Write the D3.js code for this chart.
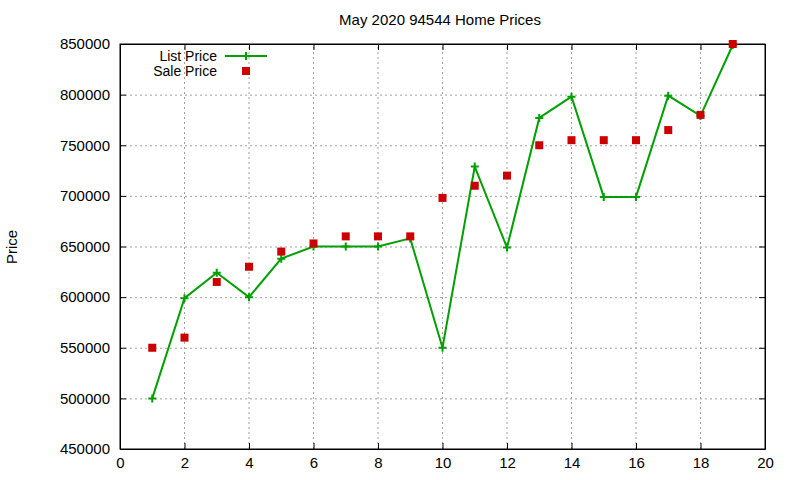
<!DOCTYPE html>
<html>
<head>
<meta charset="utf-8">
<script src="https://cdnjs.cloudflare.com/ajax/libs/d3/7.8.5/d3.min.js"></script>
<style>
  body { margin: 0; background: #fff; }
  text { font-family: "Liberation Sans", Arial, sans-serif; fill: #000; }
</style>
</head>
<body>
<svg></svg>
<script>
var width = 800;
var height = 480;

// data
var days = [1, 2, 3, 4, 5, 6, 7, 8, 9, 10, 11, 12, 13, 14, 15, 16, 17, 18, 19];
var listPrice = [500000, 599000, 624000, 600000, 638000, 650000, 650000, 650000, 658000, 550000,
                 729000, 649000, 777000, 798000, 699000, 699000, 799000, 779000, 849000];
var salePrice = [550000, 560000, 615000, 630000, 645000, 653000, 660000, 660000, 660000, 698000,
                 710000, 720000, 750000, 755000, 755000, 755000, 765000, 780000, 850000];
var xTicks = [0, 2, 4, 6, 8, 10, 12, 14, 16, 18, 20];
var yTicks = [450000, 500000, 550000, 600000, 650000, 700000, 750000, 800000, 850000];

var margin = {left: 120, right: 35, top: 44, bottom: 31};

var svg = d3.select('svg')
    .attr('width', width)
    .attr('height', height);

var x = d3.scaleLinear().domain([0, 20]).range([margin.left, width - margin.right]);
var y = d3.scaleLinear().domain([450000, 850000]).range([height - margin.bottom, margin.top]);

// grid
var grid = svg.append('g');
grid.selectAll('.gx').data(xTicks.slice(1, -1)).enter().append('line')
    .attr('x1', d => x(d)).attr('x2', d => x(d))
    .attr('y1', y(450000)).attr('y2', y(850000))
    .attr('stroke', '#a0a0a0').attr('stroke-dasharray', '2,3');
grid.selectAll('.gy').data(yTicks.slice(1, -1)).enter().append('line')
    .attr('x1', x(0)).attr('x2', x(20))
    .attr('y1', d => y(d) + 0.5).attr('y2', d => y(d) + 0.5)
    .attr('stroke', '#a0a0a0').attr('stroke-dasharray', '2,3');

// axes (gnuplot style: ticks inside, mirrored)
var xAxis = d3.axisBottom(x).tickValues(xTicks).tickSizeInner(-6).tickSizeOuter(0).tickPadding(8);
var yAxis = d3.axisLeft(y).tickValues(yTicks).tickSizeInner(-6).tickSizeOuter(0).tickPadding(10)
    .tickFormat(d3.format('d'));

svg.append('g').attr('transform', 'translate(0,' + y(450000) + ')').call(xAxis);
svg.append('g').attr('transform', 'translate(' + x(0) + ',0)').call(yAxis);
svg.append('g').attr('transform', 'translate(0,' + y(850000) + ')')
    .call(d3.axisTop(x).tickValues(xTicks).tickSizeInner(-6).tickSizeOuter(0).tickFormat(''));
svg.append('g').attr('transform', 'translate(' + x(20) + ',0)')
    .call(d3.axisRight(y).tickValues(yTicks).tickSizeInner(-6).tickSizeOuter(0).tickFormat(''));

svg.selectAll('.tick text').style('font-size', '15px').style('font-family', '"Liberation Sans", Arial, sans-serif');
svg.selectAll('.domain').attr('stroke', '#000');
svg.append('rect')
    .attr('x', x(0)).attr('y', y(850000))
    .attr('width', x(20) - x(0)).attr('height', y(450000) - y(850000))
    .attr('fill', 'none').attr('stroke', '#000');

// title and label
svg.append('text').attr('x', 440).attr('y', 25).attr('text-anchor', 'middle')
    .style('font-size', '15px').text('May 2020 94544 Home Prices');
svg.append('text').attr('transform', 'translate(17,' + 247 + ') rotate(-90)')
    .attr('text-anchor', 'middle').style('font-size', '15px').text('Price');

var green = '#00a000';
var red = '#cc0000';

var line = d3.line().x(d => x(d[0])).y(d => y(d[1]));
var listData = days.map((d, i) => [d, listPrice[i]]);
var saleData = days.map((d, i) => [d, salePrice[i]]);

svg.append('path').datum(listData)
    .attr('d', line).attr('fill', 'none').attr('stroke', green).attr('stroke-width', 2);

function plus(g, cx, cy) {
  g.append('path').attr('d', 'M' + (cx - 4) + ',' + cy + 'h8M' + cx + ',' + (cy - 4) + 'v8')
      .attr('stroke', green).attr('stroke-width', 2);
}
var marks = svg.append('g');
listData.forEach(d => plus(marks, x(d[0]), y(d[1])));

svg.append('g').selectAll('rect').data(saleData).enter().append('rect')
    .attr('x', d => x(d[0]) - 4).attr('y', d => y(d[1]) - 4)
    .attr('width', 8).attr('height', 8).attr('fill', red);

// legend
var lg = svg.append('g');
lg.append('text').attr('x', 217).attr('y', 61).attr('text-anchor', 'end').style('font-size', '14px').text('List Price');
lg.append('line').attr('x1', 225).attr('x2', 267).attr('y1', 56).attr('y2', 56)
    .attr('stroke', green).attr('stroke-width', 2);
plus(lg, 246, 56);
lg.append('text').attr('x', 217).attr('y', 76).attr('text-anchor', 'end').style('font-size', '14px').text('Sale Price');
lg.append('rect').attr('x', 242).attr('y', 67).attr('width', 8).attr('height', 8).attr('fill', red);
</script>
</body>
</html>
